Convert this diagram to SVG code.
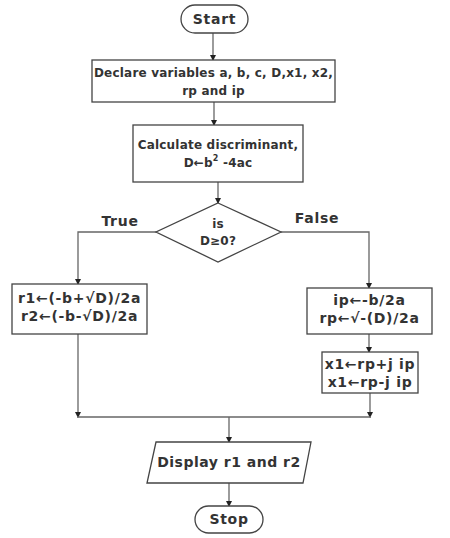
<svg xmlns="http://www.w3.org/2000/svg" width="450" height="538" viewBox="0 0 450 538">
<style>
.shape{fill:#fff;stroke:#444;stroke-width:1.3}
.t{font-family:"DejaVu Sans",Verdana,sans-serif;font-weight:bold;font-size:12px;fill:#333;text-anchor:middle;letter-spacing:0.2px}
.m{font-size:14px;letter-spacing:0.7px}
.c{fill:none;stroke:#666;stroke-width:1.3}
</style>
<defs>
<marker id="ah" markerWidth="6" markerHeight="6" refX="5" refY="3" orient="auto" markerUnits="userSpaceOnUse">
<path d="M0,0 L6,3 L0,6 Z" fill="#222"/>
</marker>
</defs>
<rect width="450" height="538" fill="#fff"/>
<g id="connectors">
<path class="c" d="M213,33 V60" marker-end="url(#ah)"/>
<path class="c" d="M214,102 V125" marker-end="url(#ah)"/>
<path class="c" d="M218,182 V203" marker-end="url(#ah)"/>
<path class="c" d="M156,232 H78 V284" marker-end="url(#ah)"/>
<path class="c" d="M281,232 H369 V288" marker-end="url(#ah)"/>
<path class="c" d="M369,334 V352" marker-end="url(#ah)"/>
<path class="c" d="M370,393 V417" marker-end="url(#ah)"/>
<path class="c" d="M78,334 V417" marker-end="url(#ah)"/>
<path class="c" d="M77,417 H371"/>
<path class="c" d="M229,417 V442" marker-end="url(#ah)"/>
<path class="c" d="M229,483 V506" marker-end="url(#ah)"/>
<text class="t m" x="120" y="226">True</text>
<text class="t m" x="317" y="223">False</text>
</g>
<g id="start">
<rect class="shape" x="181" y="5" width="67" height="28" rx="14"/>
<text class="t m" x="214.5" y="24">Start</text>
</g>
<g id="declare">
<rect class="shape" x="92" y="60" width="243" height="42"/>
<text class="t" x="213.5" y="77">Declare variables a, b, c, D,x1, x2,</text>
<text class="t" x="213.5" y="95">rp and ip</text>
</g>
<g id="calc">
<rect class="shape" x="133" y="125" width="170" height="57"/>
<text class="t" x="218" y="149">Calculate discriminant,</text>
<text class="t" x="218" y="167">D←b<tspan font-size="8" dy="-6">2</tspan><tspan dy="6"> -4ac</tspan></text>
</g>
<g id="decision">
<polygon class="shape" points="218,203 281,232 218,262 156,232"/>
<text class="t" x="218" y="228" font-size="13">is</text>
<text class="t" x="218" y="245" font-size="13">D≥0?</text>
</g>
<g id="real">
<rect class="shape" x="12" y="284" width="135" height="50"/>
<text class="t m" x="79.5" y="303">r1←(-b+√D)/2a</text>
<text class="t m" x="79.5" y="321">r2←(-b-√D)/2a</text>
</g>
<g id="imag">
<rect class="shape" x="307" y="288" width="125" height="46"/>
<text class="t m" x="369.5" y="305">ip←-b/2a</text>
<text class="t m" x="369.5" y="323">rp←√-(D)/2a</text>
</g>
<g id="complex">
<rect class="shape" x="322" y="352" width="96" height="41"/>
<text class="t m" x="370" y="369">x1←rp+j ip</text>
<text class="t m" x="370" y="387">x1←rp-j ip</text>
</g>
<g id="display">
<polygon class="shape" points="156,442 311,442 303,483 147,483"/>
<text class="t m" x="229" y="467" style="letter-spacing:0.5px">Display r1 and r2</text>
</g>
<g id="stop">
<rect class="shape" x="195" y="506" width="68" height="27" rx="13.5"/>
<text class="t m" x="229" y="524">Stop</text>
</g>
</svg>
